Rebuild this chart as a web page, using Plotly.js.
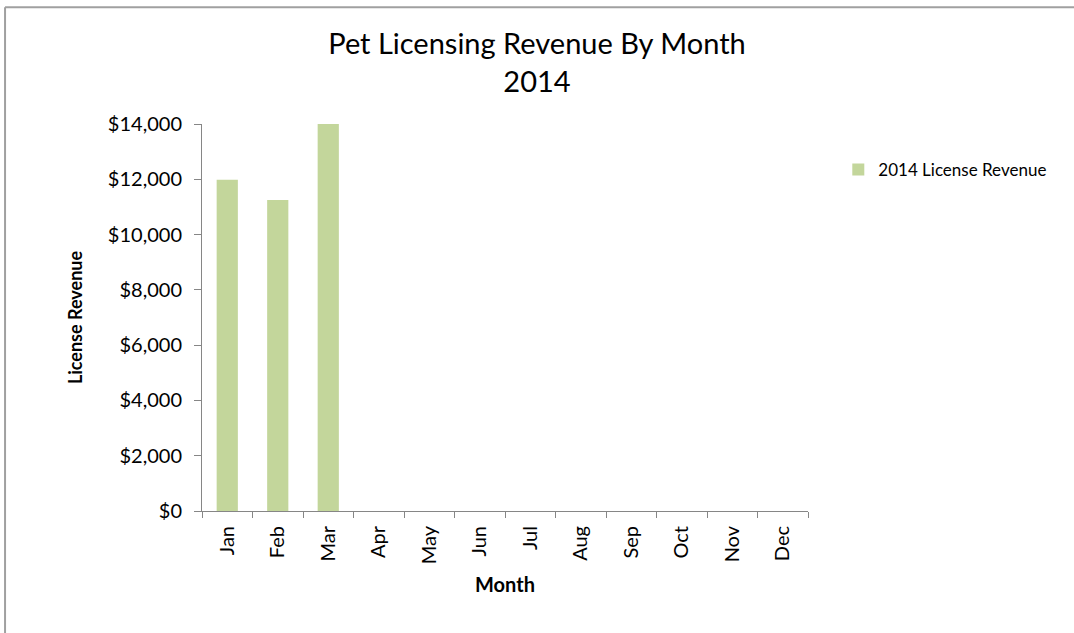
<!DOCTYPE html>
<html>
<head>
<meta charset="utf-8">
<script src="https://cdn.plot.ly/plotly-3.0.1.min.js"></script>
<style>
	body { margin: 0; background: #fff; }
	#chart { width: 1074px; height: 633px; }
</style>
</head>
<body>
<div id="chart"></div>
<script>
	// data
	var months = ['Jan', 'Feb', 'Mar', 'Apr', 'May', 'Jun', 'Jul', 'Aug', 'Sep', 'Oct', 'Nov', 'Dec']
	var revenue2014 = [11980, 11250, 14000, null, null, null, null, null, null, null, null, null]
	var yTicks = [0, 2000, 4000, 6000, 8000, 10000, 12000, 14000]
	var yTickText = ['$0', '$2,000', '$4,000', '$6,000', '$8,000', '$10,000', '$12,000', '$14,000']

	var font_family = 'Lato, "Open Sans", sans-serif'
	var axis_color = '#868686'
	var bar_color = '#c3d69b'

	var revenue = {
		x: months,
		y: revenue2014,
		type: 'bar',
		name: '2014 License Revenue',
		marker: {color: bar_color},
		showlegend: true,
	}

	var layout = {
		width: 1074,
		height: 633,
		margin: {l: 202, r: 266, t: 124, b: 122},
		paper_bgcolor: '#fff',
		plot_bgcolor: '#fff',
		font: {family: font_family, color: '#000'},
		bargap: 0.58,
		title: {
			text: 'Pet Licensing Revenue By Month<br>2014',
			font: {size: 29, color: '#000'},
			x: 0.5,
			xanchor: 'center',
			xref: 'container',
			y: 0.915,
			yanchor: 'top',
			yref: 'container',
		},
		xaxis: {
			type: 'category',
			categoryorder: 'array',
			categoryarray: months,
			range: [-0.5, 11.5],
			tickangle: -90,
			tickfont: {size: 20},
			ticks: 'outside',
			tickson: 'boundaries',
			ticklen: 6,
			tickcolor: axis_color,
			ticklabelstandoff: 6,
			showline: true,
			linecolor: axis_color,
			linewidth: 1,
			showgrid: false,
			zeroline: false,
			title: {text: '<b>Month</b>', font: {size: 20}, standoff: 14},
		},
		yaxis: {
			range: [0, 14000],
			tickvals: yTicks,
			ticktext: yTickText,
			tickfont: {size: 20},
			ticks: 'outside',
			ticklen: 7,
			tickcolor: axis_color,
			ticklabelstandoff: 8,
			showline: true,
			linecolor: axis_color,
			linewidth: 1,
			showgrid: false,
			zeroline: false,
			title: {text: '<b>License Revenue</b>', font: {size: 18}, standoff: 20},
		},
		legend: {
			x: 1.05,
			xanchor: 'left',
			y: 0.881,
			yanchor: 'middle',
			font: {size: 17},
			itemwidth: 30,
		},
		// outer chart frame (left and top edges only are visible)
		shapes: [
			{type: 'line', xref: 'paper', yref: 'paper', x0: -0.325, x1: -0.325, y0: 1.302, y1: -0.32,
			 line: {color: '#a0a0a0', width: 2}},
			{type: 'line', xref: 'paper', yref: 'paper', x0: -0.325, x1: 1.45, y0: 1.302, y1: 1.302,
			 line: {color: '#a0a0a0', width: 2}},
		],
	}

	Plotly.newPlot('chart', [revenue], layout, {displayModeBar: false, staticPlot: true})
</script>
</body>
</html>
